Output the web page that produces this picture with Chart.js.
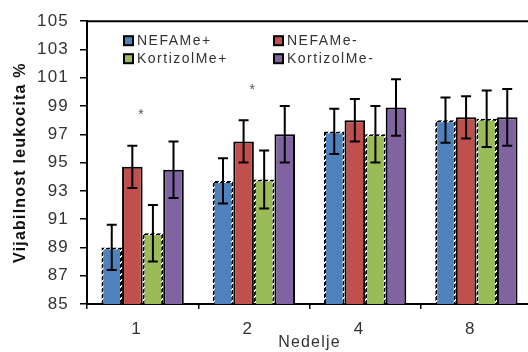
<!DOCTYPE html>
<html>
<head>
<meta charset="utf-8">
<script src="https://cdn.jsdelivr.net/npm/chart.js@4.4.1/dist/chart.umd.min.js"></script>
<style>
  html, body { margin: 0; padding: 0; background: #fff; overflow: hidden; }
  #wrap { width: 540px; height: 352px; }
</style>
</head>
<body>
<div id="wrap"><canvas id="chart"></canvas></div>
<script>
const weeks = ['1', '2', '4', '8'];
const seriesNames = ['NEFAMe+', 'NEFAMe-', 'KortizolMe+', 'KortizolMe-'];
const nefaPlus = [89.0, 93.7, 97.2, 98.0];
const nefaMinus = [94.7, 96.5, 98.0, 98.2];
const kortPlus = [90.0, 93.8, 97.0, 98.1];
const kortMinus = [94.5, 97.0, 98.9, 98.2];
const nefaPlusSd = [1.6, 1.6, 1.6, 1.6];
const nefaMinusSd = [1.5, 1.5, 1.5, 1.5];
const kortPlusSd = [2.0, 2.05, 2.0, 2.0];
const kortMinusSd = [2.0, 2.0, 2.0, 2.0];
const significant = [true, true, false, false];
const yMin = 85, yMax = 105, yStep = 2;

const FONT = "'Liberation Sans', Arial, sans-serif";
const colors = ['#4f81bd', '#c0504d', '#9bbb59', '#8064a2'];
const values = [nefaPlus, nefaMinus, kortPlus, kortMinus];
const sds = [nefaPlusSd, nefaMinusSd, kortPlusSd, kortMinusSd];

const canvas = document.getElementById('chart');

// dashed outline for the "+" groups; diagonal stripes give dashes on every edge
function dashPattern() {
  const tile = document.createElement('canvas');
  tile.width = 6; tile.height = 6;
  const g = tile.getContext('2d');
  g.fillStyle = '#000';
  for (let x = 0; x < 6; x++)
    for (let y = 0; y < 6; y++)
      if ((x + y) % 6 < 4) g.fillRect(x, y, 1, 1);
  return canvas.getContext('2d').createPattern(tile, 'repeat');
}
const dashed = dashPattern();
const borders = [dashed, '#000', dashed, '#000'];

const extras = {
  id: 'extras',
  beforeDraw(chart) {
    // the original text is set a bit wide
    chart.ctx.letterSpacing = '1.2px';
  },
  afterDatasetsDraw(chart) {
    const { ctx, chartArea, scales: { x, y } } = chart;
    ctx.save();
    // top frame line
    ctx.strokeStyle = '#000';
    ctx.lineWidth = 2;
    ctx.beginPath();
    ctx.moveTo(chartArea.left, chartArea.top);
    ctx.lineTo(chartArea.right, chartArea.top);
    ctx.stroke();

    // error bars
    chart.data.datasets.forEach((ds, i) => {
      chart.getDatasetMeta(i).data.forEach((bar, j) => {
        const top = y.getPixelForValue(values[i][j] + sds[i][j]);
        const bot = y.getPixelForValue(values[i][j] - sds[i][j]);
        ctx.beginPath();
        ctx.moveTo(bar.x, top); ctx.lineTo(bar.x, bot);
        ctx.moveTo(bar.x - 5, top); ctx.lineTo(bar.x + 5, top);
        ctx.moveTo(bar.x - 5, bot); ctx.lineTo(bar.x + 5, bot);
        ctx.stroke();
      });
    });

    // significance marks above the NEFAMe- error bar
    ctx.fillStyle = '#555';
    ctx.font = '14px ' + FONT;
    ctx.textAlign = 'center';
    ctx.textBaseline = 'middle';
    significant.forEach((s, j) => {
      if (!s) return;
      const top = y.getPixelForValue(nefaMinus[j] + nefaMinusSd[j]);
      ctx.fillText('*', x.getPixelForValue(j) - 1, top - 30);
    });

    // legend, two columns inside the plot
    ctx.font = '14px ' + FONT;
    ctx.letterSpacing = '1.5px';
    ctx.textAlign = 'left';
    seriesNames.forEach((name, i) => {
      const bx = chartArea.left + 37 + (i % 2) * 150;
      const by = chartArea.top + 20 + Math.floor(i / 2) * 18;
      ctx.fillStyle = '#000';
      ctx.fillRect(bx - 1, by - 6, 11, 11);
      ctx.fillStyle = colors[i];
      ctx.fillRect(bx + 1, by - 4, 7, 7);
      ctx.fillStyle = '#333';
      ctx.fillText(name, bx + 13, by);
    });
    ctx.restore();
  }
};

new Chart(canvas, {
  type: 'bar',
  data: {
    labels: weeks,
    datasets: seriesNames.map((name, i) => ({
      label: name,
      data: values[i],
      backgroundColor: colors[i],
      borderColor: borders[i],
      borderWidth: 2,
      categoryPercentage: 0.74,
      barPercentage: 1.0,
    })),
  },
  options: {
    responsive: true,
    maintainAspectRatio: false,
    animation: false,
    events: [],
    layout: { padding: { top: 21, right: 8, bottom: 0, left: 0 } },
    plugins: {
      legend: { display: false },
      tooltip: { enabled: false },
    },
    scales: {
      x: {
        afterFit(scale) { scale.height = 48; },
        grid: { offset: true, drawOnChartArea: false, drawTicks: true, tickLength: 5, tickColor: '#000', lineWidth: 1.5 },
        border: { color: '#000', width: 2 },
        ticks: { color: '#333', font: { family: FONT, size: 17 }, padding: 10, labelOffset: -6 },
        title: { display: true, text: 'Nedelje', color: '#333', font: { family: FONT, size: 16 }, padding: { top: 0, bottom: 0 } },
      },
      y: {
        min: yMin,
        max: yMax,
        afterFit(scale) { scale.width = 87; },
        afterBuildTicks(scale) {
          const t = [];
          for (let v = yMin; v <= yMax; v += yStep) t.push({ value: v });
          scale.ticks = t;
        },
        grid: { drawOnChartArea: false, drawTicks: true, tickLength: 7, tickColor: '#000', lineWidth: 1.5 },
        border: { color: '#000', width: 2 },
        ticks: { color: '#333', font: { family: FONT, size: 17 }, padding: 11 },
        title: { display: true, text: 'Vijabilnost leukocita %', color: '#111', font: { family: FONT, size: 16, weight: 'bold' }, padding: { top: 11, bottom: 0 } },
      },
    },
  },
  plugins: [extras],
});
</script>
</body>
</html>
